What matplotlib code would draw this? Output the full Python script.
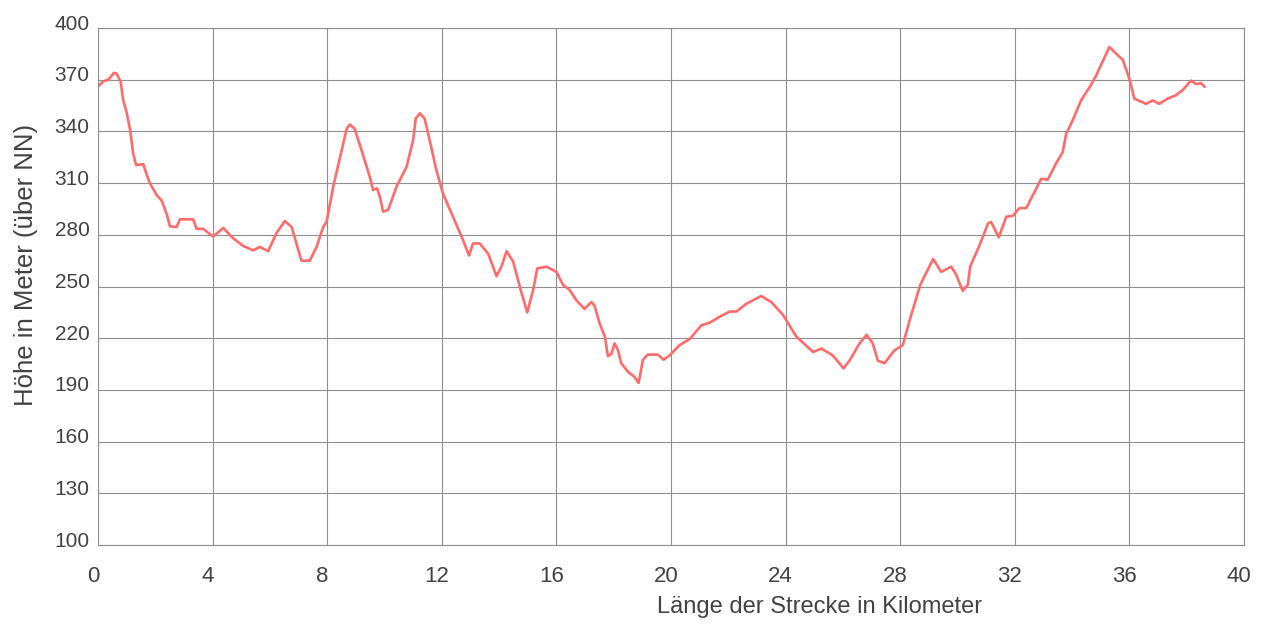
import matplotlib
matplotlib.use("Agg")
import matplotlib.pyplot as plt
from matplotlib.transforms import ScaledTranslation

plt.rcParams['font.family'] = ['Liberation Sans', 'DejaVu Sans']

km = [0.00, 0.18, 0.36, 0.56, 0.65, 0.79, 0.88, 1.00, 1.12, 1.23, 1.33, 1.58, 1.70,
      1.81, 2.05, 2.22, 2.40, 2.51, 2.74, 2.86, 3.32, 3.44, 3.67, 4.02, 4.37, 4.72,
      5.07, 5.42, 5.65, 5.94, 6.23, 6.52, 6.76, 7.10, 7.39, 7.63, 7.86, 7.98, 8.21,
      8.45, 8.68, 8.79, 8.96, 9.20, 9.49, 9.60, 9.74, 9.84, 9.95, 10.13, 10.42, 10.77,
      11.00, 11.09, 11.23, 11.40, 11.63, 11.81, 12.04, 12.39, 12.74, 12.95, 13.09,
      13.32, 13.62, 13.91, 14.08, 14.26, 14.49, 14.72, 14.98, 15.19, 15.33, 15.66,
      16.00, 16.23, 16.46, 16.70, 16.98, 17.22, 17.33, 17.51, 17.69, 17.80, 17.92,
      18.03, 18.15, 18.26, 18.50, 18.73, 18.87, 19.02, 19.19, 19.54, 19.74, 19.95,
      20.30, 20.65, 21.06, 21.35, 21.70, 22.05, 22.28, 22.63, 23.15, 23.50, 23.91,
      24.37, 24.96, 25.25, 25.65, 26.02, 26.23, 26.58, 26.83, 27.04, 27.22, 27.45,
      27.80, 28.09, 28.33, 28.70, 29.15, 29.43, 29.78, 29.95, 30.18, 30.36, 30.44,
      30.77, 31.06, 31.17, 31.44, 31.70, 31.93, 32.16, 32.40, 32.69, 32.92, 33.15,
      33.44, 33.67, 33.79, 34.02, 34.31, 34.66, 34.84, 35.30, 35.51, 35.77, 36.00,
      36.17, 36.58, 36.81, 37.04, 37.33, 37.62, 37.86, 38.15, 38.32, 38.50, 38.62]

hoehe = [366, 369, 370, 374, 373.5, 369, 358, 351, 341, 327, 320.5, 321, 315,
         310, 303, 300, 292, 285, 284.5, 289, 289, 283.5, 283.5, 279, 284, 278,
         273.5, 271, 273, 270.5, 281, 288, 284.5, 265, 265, 273, 284.5, 287.5, 308,
         325, 341.5, 344, 341.5, 329, 313.5, 306, 307, 302, 293.5, 294.5, 308, 319.5,
         335, 347.5, 350.5, 347.5, 331, 317.5, 304, 290.5, 277, 268, 275,
         275, 269, 256, 261.5, 270.5, 264.5, 250, 235, 248, 260.5, 261.5,
         258.5, 251, 248, 242, 237, 241, 239, 228.5, 221, 209.5, 211,
         217, 213, 205.5, 200.5, 197.5, 194, 207.5, 210.5, 210.5, 207.5, 210,
         216, 219.5, 227.5, 229, 232.5, 235.5, 235.5, 240, 244.5, 241, 233.5,
         221, 212, 214, 210, 202.5, 207, 217, 222, 217, 207, 205.5,
         213, 216, 230.5, 251, 266, 258.5, 261.5, 257, 247.5, 251, 261.5,
         274, 286.5, 287.5, 278.5, 290.5, 291, 295.5, 295.5, 305, 312.5, 312,
         321.5, 328, 338.5, 346.5, 358, 367, 372.5, 389, 385.5, 381.5, 370.5,
         359, 356, 358, 356, 359, 361, 364, 369.5, 367.5, 368, 366]

x_ticks = [0, 4, 8, 12, 16, 20, 24, 28, 32, 36, 40]
y_ticks = [100, 130, 160, 190, 220, 250, 280, 310, 340, 370, 400]

text_color = '#424242'
grid_color = '#8e8e8e'

fig = plt.figure(figsize=(12.71, 6.37), dpi=100)
ax = fig.add_axes([0.0771, 0.1444, 0.9017, 0.8116])

ax.plot(km, hoehe, color='#ff6a6a', lw=1.9, solid_joinstyle='round')

ax.set_xlim(0, 40)
ax.set_ylim(100, 400)
ax.set_xticks(x_ticks)
ax.set_yticks(y_ticks)
ax.grid(True, color=grid_color, lw=0.8)
ax.set_axisbelow(True)
for s in ax.spines.values():
    s.set_color(grid_color)
    s.set_linewidth(0.8)
ax.tick_params(length=0, colors=text_color)
ax.tick_params(axis='x', pad=15, labelsize=16)
ax.tick_params(axis='y', pad=6, labelsize=15)

for lab in ax.get_yticklabels():
    lab.set_transform(lab.get_transform() + ScaledTranslation(0, 0.06, fig.dpi_scale_trans))
for lab in ax.get_xticklabels():
    lab.set_transform(lab.get_transform() + ScaledTranslation(-0.05, 0, fig.dpi_scale_trans))

ax.set_xlabel('Länge der Strecke in Kilometer', fontsize=17, color=text_color)
ax.xaxis.set_label_coords(0.630, -0.1315)
ax.xaxis.label.set_verticalalignment('baseline')

ax.set_ylabel('Höhe in Meter (über NN)', fontsize=18.5, color=text_color)
ax.yaxis.set_label_coords(-0.0628, 0.5416)
ax.yaxis.label.set_verticalalignment('center')

fig.savefig('out.png', dpi=100, facecolor='white')
